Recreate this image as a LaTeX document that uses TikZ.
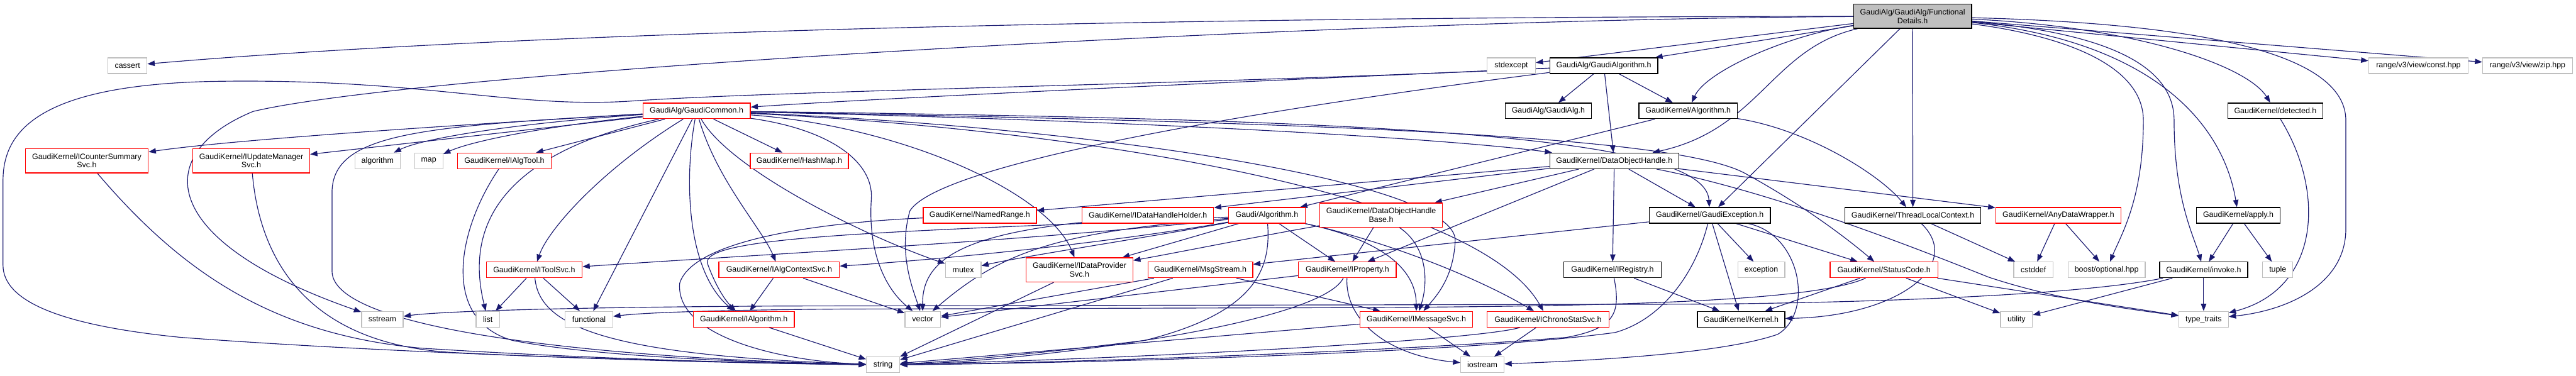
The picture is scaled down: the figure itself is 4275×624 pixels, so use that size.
\documentclass[tikz,border=0pt]{standalone}
\usepackage{fontspec}
\setmainfont{Liberation Sans}
\usetikzlibrary{arrows.meta}
\definecolor{edgecol}{HTML}{191970}
\definecolor{grayb}{HTML}{BFBFBF}
\definecolor{redb}{HTML}{FF0000}
\pgfdeclarelayer{bg}
\pgfsetlayers{bg,main}
\begin{document}
\begin{tikzpicture}[x=1pt,y=-1pt,
 nbox/.style={draw, line width=1.4pt, minimum height=26pt, inner sep=0pt, align=center, font=\fontsize{13}{14}\selectfont, fill=white},
 redbox/.style={nbox, draw=redb},
 graybox/.style={nbox, draw=grayb},
 blackbox/.style={nbox, draw=black},
 topbox/.style={nbox, draw=black, fill=grayb, minimum height=40pt},
 tall/.style={minimum height=40pt},
 dep/.style={draw=edgecol, line width=1.2pt, -{Triangle[length=12pt,width=9pt]}}
]
\useasboundingbox (0,0) rectangle (4275,624);
% row 1
\node[topbox, minimum width=196pt] (F) at (3174,27) {GaudiAlg/GaudiAlg/Functional\\Details.h};
% row 2
\node[graybox, minimum width=65pt] (cassert) at (211.5,109) {cassert};
\node[graybox, minimum width=80pt] (stdexcept) at (2508,109) {stdexcept};
\node[blackbox, minimum width=179pt] (galgo) at (2661.5,109) {GaudiAlg/GaudiAlgorithm.h};
\node[graybox, minimum width=165pt] (rconst) at (4013.5,109) {range/v3/view/const.hpp};
\node[graybox, minimum width=149pt] (rzip) at (4194.5,109) {range/v3/view/zip.hpp};
% row 3
\node[redbox, minimum width=178pt] (gcommon) at (1156,184) {GaudiAlg/GaudiCommon.h};
\node[blackbox, minimum width=143pt] (galg) at (2569.5,184) {GaudiAlg/GaudiAlg.h};
\node[blackbox, minimum width=163pt] (gkalgo) at (2801.5,184) {GaudiKernel/Algorithm.h};
\node[blackbox, minimum width=158pt] (detected) at (3776,184) {GaudiKernel/detected.h};
% row 4
\node[redbox, tall, minimum width=204pt] (icsum) at (144,267) {GaudiKernel/ICounterSummary\\Svc.h};
\node[redbox, tall, minimum width=194pt] (iupd) at (417,267) {GaudiKernel/IUpdateManager\\Svc.h};
\node[graybox, minimum width=75pt] (algorithm) at (626.5,267) {algorithm};
\node[graybox, minimum width=47pt] (map) at (711.5,267) {map};
\node[redbox, minimum width=156pt] (ialgtool) at (837,267) {GaudiKernel/IAlgTool.h};
\node[redbox, minimum width=163pt] (hashmap) at (1326.5,267) {GaudiKernel/HashMap.h};
\node[blackbox, minimum width=214pt] (doh) at (2679,267) {GaudiKernel/DataObjectHandle.h};
% row 5
\node[redbox, minimum width=188pt] (namedrange) at (1626,357.5) {GaudiKernel/NamedRange.h};
\node[redbox, minimum width=218pt] (idhh) at (1905,357.5) {GaudiKernel/IDataHandleHolder.h};
\node[redbox, minimum width=127pt] (galgorithm) at (2102.5,357.5) {Gaudi/Algorithm.h};
\node[redbox, tall, minimum width=204pt] (dohb) at (2292,357) {GaudiKernel/DataObjectHandle\\Base.h};
\node[blackbox, minimum width=201pt] (gexc) at (2837.5,357.5) {GaudiKernel/GaudiException.h};
\node[blackbox, minimum width=225pt] (tlc) at (3174.5,357.5) {GaudiKernel/ThreadLocalContext.h};
\node[redbox, minimum width=208pt] (anydw) at (3416,357.5) {GaudiKernel/AnyDataWrapper.h};
\node[blackbox, minimum width=139pt] (apply) at (3714.5,357.5) {GaudiKernel/apply.h};
% row 6
\node[redbox, minimum width=159pt] (itoolsvc) at (886.5,448) {GaudiKernel/IToolSvc.h};
\node[redbox, minimum width=200pt] (ialgctx) at (1293,448) {GaudiKernel/IAlgContextSvc.h};
\node[graybox, minimum width=59pt] (mutex) at (1598.5,448) {mutex};
\node[redbox, tall, minimum width=177pt] (idps) at (1791.5,448) {GaudiKernel/IDataProvider\\Svc.h};
\node[redbox, minimum width=174pt] (msgstream) at (1992,448) {GaudiKernel/MsgStream.h};
\node[redbox, minimum width=162pt] (iprop) at (2236,448) {GaudiKernel/IProperty.h};
\node[blackbox, minimum width=162pt] (ireg) at (2676,448) {GaudiKernel/IRegistry.h};
\node[graybox, minimum width=78pt] (exception) at (2923,448) {exception};
\node[redbox, minimum width=179pt] (statuscode) at (3126.5,448) {GaudiKernel/StatusCode.h};
\node[graybox, minimum width=65pt] (cstddef) at (3374.5,448) {cstddef};
\node[graybox, minimum width=128pt] (boostopt) at (3496,448) {boost/optional.hpp};
\node[blackbox, minimum width=146pt] (invoke) at (3657,448) {GaudiKernel/invoke.h};
\node[graybox, minimum width=50pt] (tuple) at (3780,448) {tuple};
% row 7
\node[graybox, minimum width=69pt] (sstream) at (634.5,530) {sstream};
\node[graybox, minimum width=39pt] (list) at (809.5,530) {list};
\node[graybox, minimum width=79pt] (functional) at (977.5,530) {functional};
\node[redbox, minimum width=167pt] (ialgorithm) at (1234.5,530) {GaudiKernel/IAlgorithm.h};
\node[graybox, minimum width=59pt] (vector) at (1531.5,530) {vector};
\node[redbox, minimum width=187pt] (imsgsvc) at (2350.5,530) {GaudiKernel/IMessageSvc.h};
\node[redbox, minimum width=202pt] (ichrono) at (2569,530) {GaudiKernel/IChronoStatSvc.h};
\node[blackbox, minimum width=145pt] (kernel) at (2889.5,530) {GaudiKernel/Kernel.h};
\node[graybox, minimum width=53pt] (utility) at (3346.5,530) {utility};
\node[graybox, minimum width=82pt] (typetraits) at (3657,530) {type\_traits};
% row 8
\node[graybox, minimum width=55pt] (string) at (1465.5,605.5) {string};
\node[graybox, minimum width=72pt] (iostream) at (2460,605.5) {iostream};

\begin{pgfonlayer}{bg}
% FunctionalDetails.h
\draw[dep] (F) .. controls (2000,28) and (900,50) .. (cassert);
\draw[dep] (F) .. controls (2200,32) and (700,118) .. (420,185) .. controls (250,255) and (260,400) .. (sstream);
\draw[dep] (F) -- (stdexcept);
\draw[dep] (F) -- (galgo);
\draw[dep] (F) .. controls (2960,60) and (2830,120) .. (gkalgo);
\draw[dep] (F) .. controls (2940,80) and (2920,215) .. (doh);
\draw[dep] (F) -- (gexc);
\draw[dep] (F) -- (tlc);
\draw[dep] (F) .. controls (3580,70) and (3690,210) .. (apply);
\draw[dep] (F) .. controls (3550,45) and (3730,110) .. (detected);
\draw[dep] (F) .. controls (3500,55) and (3608,110) .. (3608,200) .. controls (3608,330) and (3640,390) .. (invoke);
\draw[dep] (F) .. controls (3430,60) and (3557,110) .. (3557,200) .. controls (3557,330) and (3520,390) .. (boostopt);
\draw[dep] (F) -- (rconst);
\draw[dep] (F) -- (rzip);
\draw[dep] (F) .. controls (3700,40) and (3893,100) .. (3893,200) -- (3893,380) .. controls (3893,470) and (3800,515) .. (typetraits);
% GaudiAlgorithm.h
\draw[dep] (galgo) .. controls (2300,125) and (1500,160) .. (gcommon);
\draw[dep] (galgo) .. controls (2000,140) and (1300,150) .. (1044,168) .. controls (850,180) and (700,130) .. (360,135) .. controls (60,140) and (5,220) .. (5,300) -- (5,440) .. controls (5,500) and (100,540) .. (300,560) .. controls (700,590) and (1200,602) .. (string);
\draw[dep] (galgo) .. controls (2100,180) and (1560,270) .. (1510,350) .. controls (1490,420) and (1515,480) .. (vector);
\draw[dep] (galgo) -- (galg);
\draw[dep] (galgo) -- (gkalgo);
\draw[dep] (galgo) -- (doh);
% GaudiKernel/Algorithm.h
\draw[dep] (gkalgo) .. controls (3000,215) and (3120,290) .. (tlc);
\draw[dep] (gkalgo) -- (galgorithm);
% GaudiCommon.h
\draw[dep] (gcommon) .. controls (800,205) and (400,230) .. (icsum);
\draw[dep] (gcommon) -- (iupd);
\draw[dep] (gcommon) .. controls (850,205) and (700,230) .. (algorithm);
\draw[dep] (gcommon) .. controls (900,210) and (780,235) .. (map);
\draw[dep] (gcommon) -- (ialgtool);
\draw[dep] (gcommon) -- (hashmap);
\draw[dep] (gcommon) .. controls (900,240) and (760,330) .. (list);
\draw[dep] (gcommon) .. controls (1000,280) and (910,380) .. (itoolsvc);
\draw[dep] (gcommon) -- (functional);
\draw[dep] (gcommon) .. controls (1135,300) and (1140,450) .. (ialgorithm);
\draw[dep] (gcommon) .. controls (1190,300) and (1265,380) .. (ialgctx);
\draw[dep] (gcommon) .. controls (1210,280) and (1430,390) .. (mutex);
\draw[dep] (gcommon) .. controls (700,210) and (551,220) .. (551,320) -- (551,450) .. controls (551,560) and (1100,598) .. (string);
\draw[dep] (gcommon) .. controls (1380,215) and (1450,270) .. (1446,330) .. controls (1440,420) and (1470,480) .. (vector);
\draw[dep] (gcommon) .. controls (1500,210) and (1740,320) .. (idps);
\draw[dep] (gcommon) .. controls (1900,200) and (2400,230) .. (doh);
\draw[dep] (gcommon) .. controls (2300,198) and (2830,225) .. (gexc);
\draw[dep] (gcommon) .. controls (2300,205) and (2800,230) .. (2900,290) .. controls (3000,345) and (3070,400) .. (statuscode);
\draw[dep] (gcommon) .. controls (1800,210) and (2420,300) .. (2415,400) .. controls (2412,460) and (2385,490) .. (imsgsvc);
\draw[dep] (gcommon) .. controls (1800,215) and (2450,320) .. (ichrono);
% Gaudi/Algorithm.h
\draw[dep] (galgorithm) .. controls (1700,400) and (1300,420) .. (itoolsvc);
\draw[dep] (galgorithm) .. controls (1800,410) and (1500,435) .. (ialgctx);
\draw[dep] (galgorithm) .. controls (1500,385) and (1150,390) .. (1175,440) .. controls (1190,480) and (1205,500) .. (ialgorithm);
\draw[dep] (galgorithm) .. controls (1750,385) and (1660,420) .. (vector);
\draw[dep] (galgorithm) .. controls (2110,450) and (2080,520) .. (1900,565) .. controls (1700,590) and (1550,602) .. (string);
\draw[dep] (galgorithm) .. controls (1900,395) and (1700,425) .. (mutex);
\draw[dep] (galgorithm) -- (idps);
\draw[dep] (galgorithm) -- (iprop);
\draw[dep] (galgorithm) .. controls (2300,400) and (2350,450) .. (imsgsvc);
\draw[dep] (galgorithm) .. controls (2300,400) and (2450,460) .. (ichrono);
% DataObjectHandle.h
\draw[dep] (doh) -- (namedrange);
\draw[dep] (doh) -- (idhh);
\draw[dep] (doh) -- (dohb);
\draw[dep] (doh) -- (iprop);
\draw[dep] (doh) -- (ireg);
\draw[dep] (doh) -- (gexc);
\draw[dep] (doh) -- (anydw);
\draw[dep] (doh) .. controls (2950,320) and (3200,420) .. (3300,460) .. controls (3420,500) and (3550,515) .. (typetraits);
% DataObjectHandleBase.h
\draw[dep] (dohb) -- (iprop);
\draw[dep] (dohb) .. controls (2370,410) and (2370,470) .. (imsgsvc);
\draw[dep] (dohb) .. controls (2100,390) and (1950,420) .. (idps);
% IDataHandleHolder, NamedRange
\draw[dep] (idhh) .. controls (1600,390) and (1530,430) .. (vector);
\draw[dep] (namedrange) .. controls (1350,370) and (1150,400) .. (1128,470) .. controls (1120,560) and (1300,600) .. (string);
% row 4/6 headers to std
\draw[dep] (icsum) .. controls (300,450) and (450,555) .. (700,578) .. controls (1000,597) and (1300,604) .. (string);
\draw[dep] (iupd) .. controls (430,420) and (500,570) .. (750,585) .. controls (1000,598) and (1300,604) .. (string);
\draw[dep] (ialgtool) .. controls (760,380) and (730,530) .. (850,565) .. controls (1000,595) and (1300,603) .. (string);
\draw[dep] (itoolsvc) -- (list);
\draw[dep] (itoolsvc) -- (functional);
\draw[dep] (itoolsvc) .. controls (895,540) and (1000,590) .. (string);
\draw[dep] (ialgctx) -- (ialgorithm);
\draw[dep] (ialgctx) -- (vector);
\draw[dep] (ialgorithm) -- (string);
\draw[dep] (idps) -- (string);
\draw[dep] (msgstream) -- (vector);
\draw[dep] (msgstream) -- (string);
\draw[dep] (msgstream) -- (imsgsvc);
\draw[dep] (iprop) -- (vector);
\draw[dep] (iprop) .. controls (2190,540) and (1700,600) .. (string);
\draw[dep] (iprop) .. controls (2232,530) and (2300,590) .. (iostream);
\draw[dep] (imsgsvc) -- (iostream);
\draw[dep] (imsgsvc) -- (string);
\draw[dep] (ichrono) -- (iostream);
\draw[dep] (ichrono) .. controls (2450,565) and (1900,595) .. (string);
\draw[dep] (ireg) .. controls (2690,520) and (2680,545) .. (2600,560) .. controls (2300,585) and (1700,604) .. (string);
\draw[dep] (ireg) -- (kernel);
% GaudiException.h
\draw[dep] (gexc) -- (exception);
\draw[dep] (gexc) -- (kernel);
\draw[dep] (gexc) -- (statuscode);
\draw[dep] (gexc) -- (msgstream);
\draw[dep] (gexc) .. controls (2815,450) and (2760,530) .. (2680,552) .. controls (2400,590) and (1700,604) .. (string);
\draw[dep] (gexc) .. controls (2990,390) and (3010,520) .. (2950,555) .. controls (2850,590) and (2600,600) .. (iostream);
% StatusCode.h
\draw[dep] (statuscode) -- (kernel);
\draw[dep] (statuscode) -- (utility);
\draw[dep] (statuscode) -- (typetraits);
\draw[dep] (statuscode) .. controls (3000,505) and (2600,510) .. (2100,511) -- (1400,513) .. controls (1150,515) and (1060,520) .. (functional);
% invoke.h
\draw[dep] (invoke) .. controls (3450,490) and (3100,503) .. (2800,505) -- (1300,508) .. controls (900,510) and (720,518) .. (sstream);
\draw[dep] (invoke) -- (utility);
\draw[dep] (invoke) -- (typetraits);
% others
\draw[dep] (tlc) -- (cstddef);
\draw[dep] (tlc) .. controls (3260,440) and (3150,525) .. (kernel);
\draw[dep] (anydw) -- (cstddef);
\draw[dep] (anydw) -- (boostopt);
\draw[dep] (apply) -- (invoke);
\draw[dep] (apply) -- (tuple);
\draw[dep] (detected) .. controls (3860,320) and (3850,480) .. (typetraits);
\end{pgfonlayer}
\end{tikzpicture}
\end{document}
